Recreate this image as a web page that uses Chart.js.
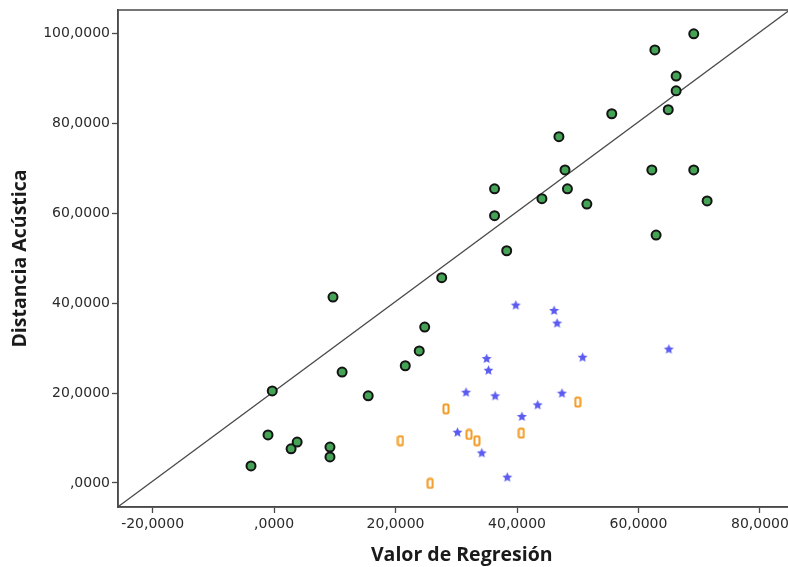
<!DOCTYPE html>
<html>
<head>
<meta charset="utf-8">
<script src="https://cdn.jsdelivr.net/npm/chart.js@4.4.1/dist/chart.umd.min.js"></script>
<style>
  html, body { margin: 0; padding: 0; background: #fff; overflow: hidden; }
  #wrap { width: 788px; height: 567px; overflow: hidden; }
</style>
</head>
<body>
<div id="wrap"><canvas id="scatter" width="812" height="567"></canvas></div>
<script>
// grupo 1 (círculos verdes)
const verdeX = [-3.8, -1.0, -0.3, 2.8, 3.8, 9.2, 9.2, 9.7, 11.2, 15.5, 21.6, 23.9, 24.8, 27.6, 36.3, 36.3,
  38.3, 44.1, 46.9, 47.9, 48.3, 51.5, 55.6, 62.2, 62.9, 62.7, 64.9, 66.2, 66.2, 69.1, 69.1, 71.3];
const verdeY = [3.8, 10.7, 20.5, 7.6, 9.1, 8.0, 5.8, 41.4, 24.7, 19.4, 26.1, 29.4, 34.7, 45.7, 65.5, 59.5,
  51.7, 63.3, 77.1, 69.7, 65.5, 62.1, 82.2, 69.7, 55.2, 96.4, 83.1, 90.6, 87.3, 100.0, 69.7, 62.8];
// grupo 2 (estrellas azules)
const azulX = [39.8, 46.1, 46.6, 65.0, 35.0, 50.8, 35.3, 31.6, 36.4, 47.4, 43.4, 40.8, 30.2, 34.2, 38.4];
const azulY = [39.6, 38.4, 35.6, 29.8, 27.7, 28.0, 25.1, 20.2, 19.4, 20.0, 17.4, 14.8, 11.3, 6.7, 1.3];
// grupo 3 (naranja)
const naranjaX = [28.3, 50.0, 20.8, 32.1, 33.4, 40.7, 25.7];
const naranjaY = [16.5, 18.0, 9.4, 10.8, 9.4, 11.1, -0.1];
// linea de referencia
const lineaX = [-25.7, 87.5];
const lineaY = [-5.3, 107.9];

const xTicks = [-20, 0, 20, 40, 60, 80];
const yTicks = [0, 20, 40, 60, 80, 100];

function pares(xs, ys) {
  return xs.map((x, i) => ({ x: x, y: ys[i] }));
}
function etiqueta(v) {
  return v === 0 ? ',0000' : v + ',0000';
}

// marcador estrella
const estrella = document.createElement('canvas');
estrella.width = 11; estrella.height = 11;
(function () {
  const c = estrella.getContext('2d');
  c.fillStyle = '#5b5bf2';
  c.beginPath();
  for (let i = 0; i < 10; i++) {
    const r = i % 2 === 0 ? 5.2 : 2.4;
    const a = -Math.PI / 2 + i * Math.PI / 5;
    const px = 5.5 + r * Math.cos(a), py = 5.8 + r * Math.sin(a);
    if (i === 0) c.moveTo(px, py); else c.lineTo(px, py);
  }
  c.closePath();
  c.fill();
})();

// marcador rectangulo naranja
const caja = document.createElement('canvas');
caja.width = 8; caja.height = 12;
(function () {
  const c = caja.getContext('2d');
  c.strokeStyle = '#f29a22';
  c.lineWidth = 2;
  c.beginPath();
  c.roundRect(1.5, 1.5, 5, 9, 1.5);
  c.stroke();
})();

const marco = {
  id: 'marco',
  afterDraw(chart) {
    const a = chart.chartArea, c = chart.ctx;
    c.save();
    c.strokeStyle = '#4a4a4a';
    c.lineWidth = 1.5;
    c.strokeRect(a.left, a.top, a.right - a.left, a.bottom - a.top);
    c.restore();
  }
};

const ctx = document.getElementById('scatter').getContext('2d');
new Chart(ctx, {
  type: 'scatter',
  data: {
    datasets: [
      {
        type: 'line',
        data: pares(lineaX, lineaY),
        borderColor: '#4a4a4a',
        borderWidth: 1.3,
        pointRadius: 0,
        fill: false,
        order: 5
      },
      {
        data: pares(verdeX, verdeY),
        backgroundColor: '#45a356',
        borderColor: '#141414',
        borderWidth: 2,
        pointRadius: 4.5,
        order: 1
      },
      {
        data: pares(azulX, azulY),
        pointStyle: estrella,
        order: 2
      },
      {
        data: pares(naranjaX, naranjaY),
        pointStyle: caja,
        order: 3
      }
    ]
  },
  options: {
    responsive: false,
    animation: false,
    layout: { padding: { left: 0, top: 10, right: 4, bottom: 0 } },
    plugins: { legend: { display: false }, tooltip: { enabled: false } },
    scales: {
      x: {
        type: 'linear',
        min: -25.7,
        max: 87.5,
        afterBuildTicks: (s) => { s.ticks = xTicks.map(v => ({ value: v })); },
        afterFit: (s) => { s.height = 60; s.paddingLeft = 0; s.paddingRight = 0; },
        grid: { drawOnChartArea: false, drawTicks: true, tickLength: 6, tickColor: '#4a4a4a', tickWidth: 1.3 },
        border: { display: true, color: '#4a4a4a', width: 1.5 },
        ticks: {
          callback: etiqueta,
          color: '#2a2a2a',
          padding: 3,
          maxRotation: 0,
          autoSkip: false,
          font: { family: 'DejaVu Sans', size: 14 }
        },
        title: {
          display: true,
          text: 'Valor de Regresión',
          color: '#1a1a1a',
          padding: { top: 0, bottom: 0 },
          font: { family: 'Open Sans', size: 19.5, weight: 'bold' }
        }
      },
      y: {
        type: 'linear',
        min: -5.35,
        max: 105.3,
        afterBuildTicks: (s) => { s.ticks = yTicks.map(v => ({ value: v })); },
        afterFit: (s) => { s.width = 118; s.paddingTop = 0; s.paddingBottom = 0; },
        grid: { drawOnChartArea: false, drawTicks: true, tickLength: 6, tickColor: '#4a4a4a', tickWidth: 1.3 },
        border: { display: true, color: '#4a4a4a', width: 1.5 },
        ticks: {
          callback: etiqueta,
          color: '#2a2a2a',
          padding: 2,
          autoSkip: false,
          font: { family: 'DejaVu Sans', size: 14 }
        },
        title: {
          display: true,
          text: 'Distancia Acústica',
          color: '#1a1a1a',
          padding: { top: 9, bottom: 0 },
          font: { family: 'Open Sans', size: 19.5, weight: 'bold' }
        }
      }
    }
  },
  plugins: [marco]
});
</script>
</body>
</html>
